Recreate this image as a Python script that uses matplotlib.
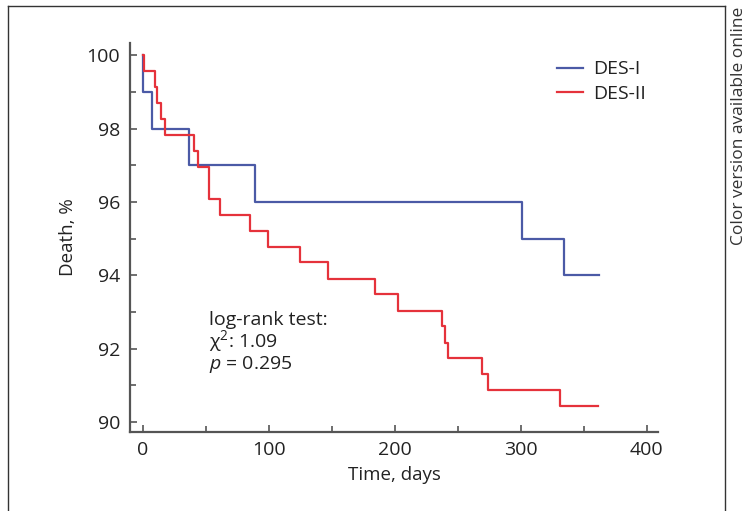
import matplotlib
matplotlib.use("Agg")
import matplotlib.pyplot as plt
from matplotlib.lines import Line2D
from matplotlib.ticker import MultipleLocator

plt.rcParams['font.family'] = ['Open Sans', 'DejaVu Sans']
plt.rcParams['mathtext.fontset'] = 'custom'
plt.rcParams['mathtext.rm'] = 'Open Sans'
plt.rcParams['mathtext.it'] = 'Open Sans:italic'

# Kaplan-Meier style step data
des1_days = [0, 0.3, 7, 37, 89, 301, 334, 362]
des1_pct = [100, 99, 98, 97, 96, 95, 94, 94]

des2_days = [0, 1, 9.5, 11.6, 14.5, 17.4, 40.8, 43.9, 52.3, 61, 85.5, 99.4,
             125.2, 146.7, 184, 202.5, 237.5, 240, 242.7, 269.2, 273.8, 330.9, 361]
des2_pct = [100, 99.57, 99.13, 98.70, 98.26, 97.83, 97.39, 96.96, 96.09, 95.65,
            95.22, 94.78, 94.35, 93.91, 93.48, 93.04, 92.61, 92.17, 91.74, 91.30,
            90.87, 90.43, 90.43]

blue = '#4b5aa6'
red = '#e5323b'
axis_grey = '#555555'
text_col = '#222222'

fig = plt.figure(figsize=(7.49, 5.11), dpi=100)
ax = fig.add_axes([130 / 749, 1 - 431.7 / 511, 528 / 749, (431.7 - 43) / 511])

ax.step(des1_days, des1_pct, where='post', color=blue, lw=1.6, label='DES-I')
ax.step(des2_days, des2_pct, where='post', color=red, lw=1.6, label='DES-II')

ax.set_xlim(-10.1, 409)
ax.set_ylim(89.74, 100.33)
ax.xaxis.set_major_locator(MultipleLocator(100))
ax.xaxis.set_minor_locator(MultipleLocator(50))
ax.yaxis.set_major_locator(MultipleLocator(2))
ax.yaxis.set_minor_locator(MultipleLocator(1))

for s in ['top', 'right']:
    ax.spines[s].set_visible(False)
for s in ['left', 'bottom']:
    ax.spines[s].set_color(axis_grey)
    ax.spines[s].set_linewidth(1.6)

ax.tick_params(which='both', direction='in', color=axis_grey, width=1.2,
               labelsize=14, labelcolor=text_col)
ax.tick_params(which='major', length=5, pad=7)
ax.tick_params(which='minor', length=4)

ax.set_xlabel('Time, days', fontsize=13.5, color=text_col, labelpad=5)
ax.set_ylabel('Death, %', fontsize=13.5, color=text_col, labelpad=7)

ax.legend(loc='upper right', bbox_to_anchor=(1.01, 1.0), frameon=False,
          fontsize=14, handlelength=1.35, handletextpad=0.5, labelspacing=0.35,
          labelcolor=text_col)

ax.text(53, 93.04, 'log-rank test:\nχ$^2$: 1.09\n$p$ = 0.295', fontsize=14,
        color=text_col, va='top', ha='left', linespacing=1.0)

# frame around the panel and the side note
fx0, fx1, fy1 = 8 / 749, 725 / 749, 1 - 6.5 / 511
for xs, ys in [([fx0, fx0], [0, fy1]), ([fx0, fx1], [fy1, fy1]), ([fx1, fx1], [fy1, 0])]:
    fig.add_artist(Line2D(xs, ys, transform=fig.transFigure, color='#333333', lw=1))
fig.text(739 / 749, 1 - 126 / 511, 'Color version available online', rotation=90,
         ha='center', va='center', fontsize=12.5, color='#333333')

fig.savefig('out.png', dpi=100)
